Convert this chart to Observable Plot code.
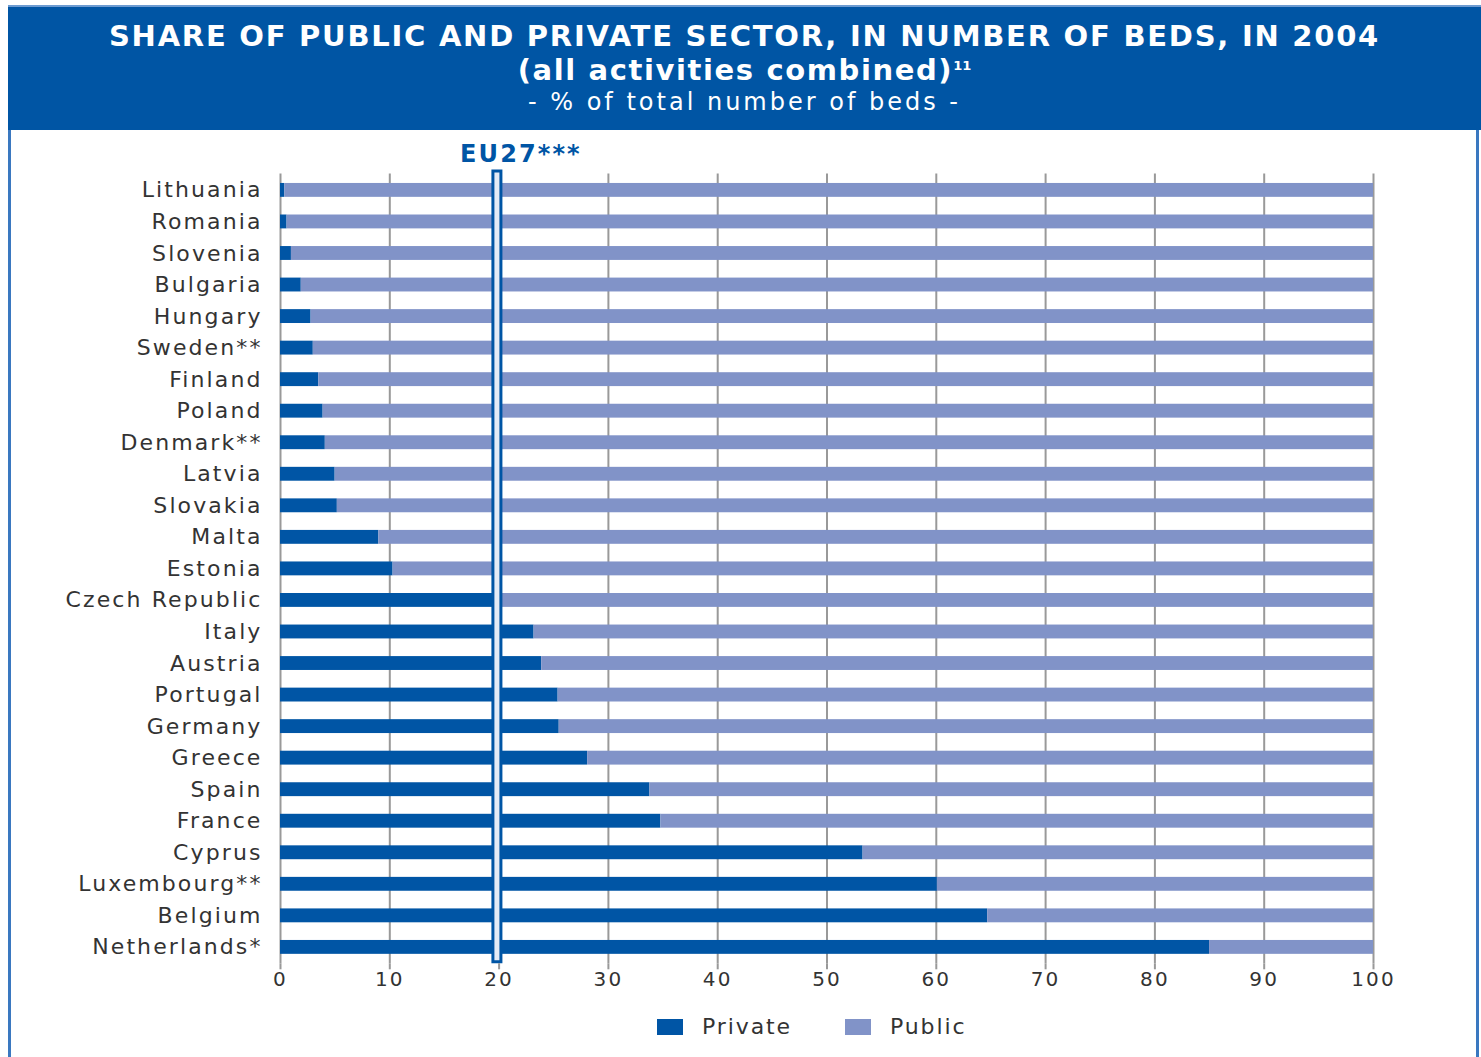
<!DOCTYPE html>
<html>
<head>
<meta charset="utf-8">
<script src="https://cdn.jsdelivr.net/npm/d3@7"></script>
<script src="https://cdn.jsdelivr.net/npm/@observablehq/plot@0.6"></script>
<style>
  body { margin: 0; background: #fff; font-family: "DejaVu Sans", sans-serif; width: 1481px; height: 1057px; overflow: hidden; position: relative; }
  #header { position: absolute; left: 8px; top: 5px; width: 1473px; height: 125px; background: #0055a4; color: #fff; text-align: center; border-top: 2px solid #6d9bd1; box-sizing: border-box; }
  #header .t1 { position: absolute; left: 0; right: 0; top: 15px; font-weight: bold; font-size: 29px; line-height: 28px; letter-spacing: 1.75px; }
  #header .t2 { position: absolute; left: 0; right: 0; top: 49px; font-weight: bold; font-size: 29px; line-height: 28px; letter-spacing: 1.6px; }
  #header .t2 sup { font-size: 13px; vertical-align: 10px; line-height: 0; letter-spacing: 0; }
  #header .t3 { position: absolute; left: 0; right: 0; top: 82px; font-size: 24px; line-height: 26px; letter-spacing: 3px; }
  #panel { position: absolute; left: 8px; top: 130px; width: 1471px; height: 940px; border-left: 3px solid #3a78c0; border-right: 3px solid #3a78c0; box-sizing: border-box; }
  #chart { position: absolute; left: 0; top: 140px; }
  #legend { position: absolute; top: 1014px; left: 657px; font-size: 22px; color: #333; display: flex; align-items: center; letter-spacing: 1.9px; }
  #legend .sw { display: inline-block; width: 26px; height: 16px; margin-right: 19px; }
</style>
</head>
<body>
<div id="header">
  <div class="t1">SHARE OF PUBLIC AND PRIVATE SECTOR, IN NUMBER OF BEDS, IN 2004</div>
  <div class="t2">(all activities combined)<sup>11</sup></div>
  <div class="t3">- % of total number of beds -</div>
</div>
<div id="panel"></div>
<div id="chart"></div>
<div id="legend"></div>
<script>
const countries = ["Lithuania","Romania","Slovenia","Bulgaria","Hungary","Sweden**","Finland","Poland","Denmark**","Latvia","Slovakia","Malta","Estonia","Czech Republic","Italy","Austria","Portugal","Germany","Greece","Spain","France","Cyprus","Luxembourg**","Belgium","Netherlands*"];
const privateShare = [0.4,0.6,1.0,1.9,2.8,3.0,3.5,3.9,4.1,5.0,5.2,9.0,10.3,19.6,23.2,23.9,25.4,25.5,28.1,33.8,34.8,53.3,60.1,64.7,85.0];
const sectors = ["Private","Public"];
const sectorColors = ["#0055a5","#8193c8"];
const xTicks = [0,10,20,30,40,50,60,70,80,90,100];
const eu27 = 19.8;
const eu27Label = "EU27***";

const rows = [];
countries.forEach((c, i) => {
  rows.push({country: c, sector: "Private", value: privateShare[i]});
  rows.push({country: c, sector: "Public", value: 100 - privateShare[i]});
});

const W = 1481, H = 870;
const chart = Plot.plot({
  width: W,
  height: H,
  marginLeft: 280,
  marginRight: 108,
  marginTop: 33.5,
  marginBottom: 46.7,
  style: {fontFamily: "DejaVu Sans, sans-serif", color: "#333", background: "transparent"},
  x: {domain: [0, 100], ticks: xTicks, label: null, tickSize: 6, tickPadding: 2, tickFormat: d => String(d)},
  y: {domain: countries, paddingInner: 0.56, paddingOuter: 0.3, round: false, label: null, tickSize: 0, tickPadding: 18},
  color: {domain: sectors, range: sectorColors},
  marks: [
    Plot.gridX(xTicks, {stroke: "#999", strokeOpacity: 1, strokeWidth: 2}),
    Plot.barX(rows, {x: "value", y: "country", fill: "sector", order: sectors}),
    Plot.ruleX([eu27], {stroke: "#0055a5", strokeWidth: 11, insetTop: -4}),
    Plot.ruleX([eu27], {stroke: "#e4ebf6", strokeWidth: 5, insetTop: -1, insetBottom: 3}),
    Plot.text([eu27Label], {x: eu27, frameAnchor: "top", dy: -29, dx: 24, text: d => d, fill: "#0055a5", fontWeight: "bold", fontSize: 24, style: "letter-spacing:3.4px"}),
    Plot.axisX({ticks: xTicks, tickSize: 6, tickPadding: 2, fontSize: 20, stroke: "#999", strokeWidth: 2, tickFormat: d => String(d)}),
    Plot.axisY({tickSize: 0, tickPadding: 18, fontSize: 22})
  ]
});
chart.querySelectorAll("text").forEach(t => { if (!t.getAttribute("font-weight")) t.style.letterSpacing = "2.1px"; });
document.getElementById("chart").appendChild(chart);

const legend = document.getElementById("legend");
sectors.forEach((s, i) => {
  const item = document.createElement("span");
  item.style.display = "inline-flex";
  item.style.alignItems = "center";
  item.style.marginRight = i === 0 ? "53px" : "0";
  item.innerHTML = `<span class="sw" style="background:${sectorColors[i]}"></span>${s}`;
  legend.appendChild(item);
});
</script>
</body>
</html>
